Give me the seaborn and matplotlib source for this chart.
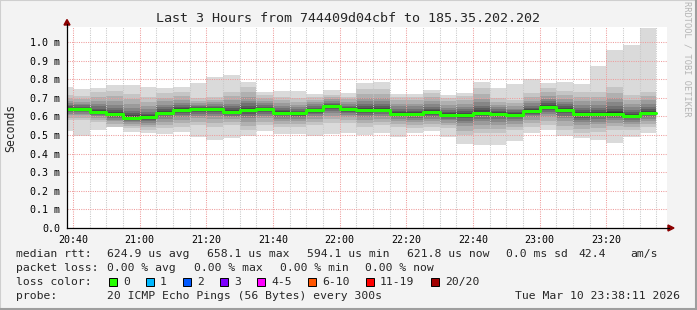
import numpy as np
import pandas as pd
import matplotlib
matplotlib.use("Agg")
import matplotlib.pyplot as plt
import matplotlib.dates as mdates
import seaborn as sns
from matplotlib.patches import Rectangle, Polygon
from matplotlib.lines import Line2D

# ---------------- data (milliseconds) ----------------
title = "Last 3 Hours from 744409d04cbf to 185.35.202.202"
first_bar_start = "2026-03-10 20:35"
view_start = "2026-03-10 20:38:11"
view_end = "2026-03-10 23:38:11"

median_ms = [0.640, 0.638, 0.622, 0.611, 0.593, 0.595, 0.620, 0.633, 0.638, 0.640,
             0.624, 0.634, 0.638, 0.620, 0.616, 0.634, 0.658, 0.638, 0.636, 0.636,
             0.615, 0.615, 0.622, 0.609, 0.609, 0.620, 0.615, 0.609, 0.631, 0.652,
             0.636, 0.611, 0.611, 0.615, 0.604, 0.620]
max_ms = [0.760, 0.747, 0.753, 0.769, 0.769, 0.758, 0.753, 0.758, 0.780, 0.812,
          0.823, 0.785, 0.730, 0.737, 0.737, 0.720, 0.742, 0.724, 0.780, 0.785,
          0.720, 0.720, 0.742, 0.715, 0.726, 0.785, 0.753, 0.774, 0.801, 0.780,
          0.785, 0.774, 0.873, 0.957, 0.984, 1.077]
min_ms = [0.522, 0.496, 0.527, 0.545, 0.518, 0.513, 0.505, 0.518, 0.491, 0.473,
          0.486, 0.496, 0.523, 0.505, 0.505, 0.496, 0.505, 0.513, 0.500, 0.509,
          0.491, 0.513, 0.523, 0.491, 0.452, 0.448, 0.448, 0.469, 0.513, 0.527,
          0.496, 0.482, 0.473, 0.459, 0.488, 0.513]
upper_inner_ms = [0.715, 0.710, 0.730, 0.737, 0.720, 0.703, 0.724, 0.729, 0.697, 0.703,
                  0.731, 0.756, 0.715, 0.706, 0.697, 0.706, 0.715, 0.706, 0.745, 0.747,
                  0.706, 0.706, 0.728, 0.701, 0.710, 0.751, 0.697, 0.688, 0.724, 0.751,
                  0.738, 0.733, 0.733, 0.760, 0.715, 0.733]
lower_inner_ms = [0.581, 0.581, 0.572, 0.545, 0.536, 0.527, 0.536, 0.545, 0.554, 0.545,
                  0.554, 0.527, 0.554, 0.545, 0.545, 0.554, 0.563, 0.563, 0.545, 0.554,
                  0.545, 0.536, 0.541, 0.536, 0.500, 0.509, 0.509, 0.527, 0.545, 0.554,
                  0.527, 0.509, 0.518, 0.527, 0.527, 0.545]

ytick_values = [0.0, 0.1, 0.2, 0.3, 0.4, 0.5, 0.6, 0.7, 0.8, 0.9, 1.0]
ytick_labels = ["0.0", "0.1 m", "0.2 m", "0.3 m", "0.4 m", "0.5 m", "0.6 m",
                "0.7 m", "0.8 m", "0.9 m", "1.0 m"]

rtt_label = "median rtt:"
rtt_items = ["624.9 us avg", "658.1 us max", "594.1 us min", "621.8 us now",
             "0.0 ms sd", "42.4", "am/s"]
loss_label = "packet loss:"
loss_items = ["0.00 % avg", "0.00 % max", "0.00 % min", "0.00 % now"]
color_label = "loss color:"
loss_names = ["0", "1", "2", "3", "4-5", "6-10", "11-19", "20/20"]
loss_colors = ["#26ff00", "#00b8ff", "#0059ff", "#7e00ff", "#ff00ff",
               "#ff5500", "#ff0000", "#a10000"]
probe_label = "probe:"
probe_text = "20 ICMP Echo Pings (56 Bytes) every 300s"
stamp_text = "Tue Mar 10 23:38:11 2026"
side_text = "RRDTOOL / TOBI OETIKER"

# ---------------- figure ----------------
W, H = 697, 310
sns.set_style("white")
plt.rcParams['font.family'] = ['DejaVu Sans Mono', 'DejaVu Sans']

fig = plt.figure(figsize=(W / 100, H / 100), dpi=100, facecolor='#f3f3f3')


def fx(px):
    return px / W


def fy(py):
    return 1 - py / H


ax = fig.add_axes([fx(67), fy(228), fx(667) - fx(67), fy(27.3) - fy(228)])
ax.set_facecolor('white')

t = pd.date_range(first_bar_start, periods=len(median_ms), freq="5min")
tx = list(t) + [t[-1] + pd.Timedelta(minutes=5)]


def ext(a):
    a = np.asarray(a, dtype=float)
    return np.append(a, a[-1])


med = ext(median_ms)
hi = ext(max_ms)
lo = ext(min_ms)
hi2 = ext(upper_inner_ms)
lo2 = ext(lower_inner_ms)

# smoke: outer band light, inner shades darker toward the median
smoke_cols = ['#dadada', '#c5c5c5', '#b0b0b0', '#9b9b9b', '#868686',
              '#717171', '#5c5c5c', '#474747', '#323232']
shade_extent = [0.78, 0.58, 0.42, 0.29, 0.18, 0.10, 0.045]
ax.fill_between(tx, lo, hi, step='post', color=smoke_cols[0], linewidth=0, zorder=1)
ax.fill_between(tx, lo2, hi2, step='post', color=smoke_cols[1], linewidth=0, zorder=1)
for col, f in zip(smoke_cols[2:], shade_extent):
    ax.fill_between(tx, med - (med - lo2) * f, med + (hi2 - med) * f,
                    step='post', color=col, linewidth=0, zorder=1)

df = pd.DataFrame({"time": tx, "median": med})
sns.lineplot(data=df, x="time", y="median", estimator=None, drawstyle='steps-post',
             color='#22ff00', linewidth=2.2, ax=ax, zorder=4)

ax.set_xlim(pd.Timestamp(view_start), pd.Timestamp(view_end))
ax.set_ylim(0, 1.079)
ax.set_xlabel("")
ax.set_ylabel("")

ax.xaxis.set_major_locator(mdates.MinuteLocator(byminute=[0, 20, 40]))
ax.xaxis.set_major_formatter(mdates.DateFormatter("%H:%M"))
ax.xaxis.set_minor_locator(mdates.MinuteLocator(byminute=range(0, 60, 5)))
ax.set_yticks(ytick_values)
ax.set_yticklabels(ytick_labels)

ax.set_axisbelow(False)
ax.grid(which='minor', axis='x', color='#c8c8c8', linestyle=(0, (1, 1.2)), linewidth=0.75)
ax.grid(which='major', axis='both', color='#ee9c9c', linestyle=(0, (1, 1.2)), linewidth=0.75)

for s in ['top', 'right']:
    ax.spines[s].set_visible(False)
for s in ['left', 'bottom']:
    ax.spines[s].set_color('black')
    ax.spines[s].set_linewidth(0.9)
    ax.spines[s].set_zorder(5)

ax.tick_params(axis='both', which='major', labelsize=7.2, length=2.2, width=0.7,
               color='#e08080', pad=2.5, labelcolor='black')
ax.tick_params(axis='x', which='minor', length=1.5, width=0.6, color='#c0c0c0')

# axis extensions and arrows
fig.add_artist(Line2D([fx(67), fx(67)], [fy(27.3), fy(24)], color='black', lw=0.9))
fig.add_artist(Polygon([[fx(64), fy(25)], [fx(70), fy(25)], [fx(67), fy(19.5)]],
                       closed=True, color='#8b0000'))
fig.add_artist(Line2D([fx(667), fx(669)], [fy(228), fy(228)], color='black', lw=0.9))
fig.add_artist(Polygon([[fx(668), fy(225)], [fx(668), fy(231)], [fx(674), fy(228)]],
                       closed=True, color='#8b0000'))

# texts
fig.text(fx(348), fy(19), title, fontsize=9.6, ha='center', va='center')
fig.text(fx(11), fy(127.5), "Seconds", fontsize=8.3, rotation=90, ha='center', va='center')
fig.text(fx(687), fy(59), side_text, fontsize=6.2, rotation=270, ha='center', va='center',
         color='#b4b4b4')

LF = 8.2
r1, r2, r3, r4 = 254, 268, 282, 296
fig.text(fx(16), fy(r1), rtt_label, fontsize=LF, va='center')
for xp, s in zip([107, 207, 307, 407.5, 506.5, 578, 630], rtt_items):
    fig.text(fx(xp), fy(r1), s, fontsize=LF, va='center')
fig.text(fx(16), fy(r2), loss_label, fontsize=LF, va='center')
for xp, s in zip([107, 194, 280, 365], loss_items):
    fig.text(fx(xp), fy(r2), s, fontsize=LF, va='center')
fig.text(fx(16), fy(r3), color_label, fontsize=LF, va='center')
box_x = [108.5, 145.5, 182.5, 219.5, 256.5, 307.5, 365.5, 430.5]
for xp, name, col in zip(box_x, loss_names, loss_colors):
    fig.add_artist(Rectangle((fx(xp), fy(r3 + 4)), fx(8), 8 / H, facecolor=col,
                             edgecolor='black', linewidth=0.7))
    fig.text(fx(xp + 14.5), fy(r3), name, fontsize=LF, va='center')
fig.text(fx(16), fy(r4), probe_label, fontsize=LF, va='center')
fig.text(fx(107), fy(r4), probe_text, fontsize=LF, va='center')
fig.text(fx(680), fy(r4), stamp_text, fontsize=LF, va='center', ha='right')

# frame
fig.add_artist(Rectangle((0, 0), 1, 1, fill=False, edgecolor='#cfcfcf', linewidth=1.5))
fig.add_artist(Line2D([0, 1], [fy(309), fy(309)], color='#9e9e9e', lw=1.5))
fig.add_artist(Line2D([fx(696), fx(696)], [0, 1], color='#9e9e9e', lw=1.5))

fig.savefig("out.png", dpi=100, facecolor=fig.get_facecolor())
